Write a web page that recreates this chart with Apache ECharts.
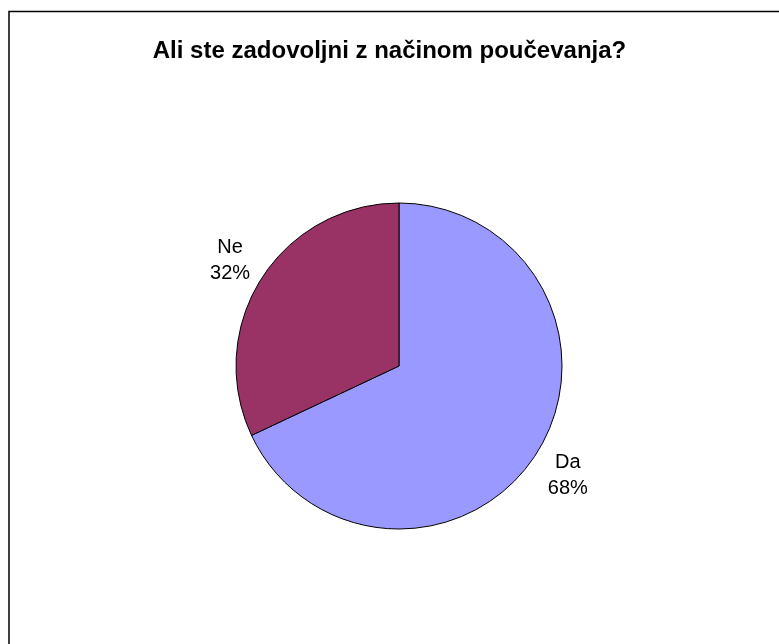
<!DOCTYPE html>
<html>
<head>
<meta charset="utf-8">
<script src="https://cdn.jsdelivr.net/npm/echarts@6/dist/echarts.min.js"></script>
<style>html,body{margin:0;padding:0;background:#fff}#c{width:779px;height:644px}</style>
</head>
<body>
<div id="c"></div>
<script>
var titleText = 'Ali ste zadovoljni z načinom poučevanja?';
var categories = ['Da', 'Ne'];
var values = [68, 32];
var colors = ['#9999FF', '#993366'];

var pieData = categories.map(function (c, i) {
  return { name: c, value: values[i], itemStyle: { color: colors[i] } };
});
var labelData = categories.map(function (c, i) {
  return { name: c, value: values[i] };
});

var chart = echarts.init(document.getElementById('c'), null, { renderer: 'canvas' });
chart.setOption({
  animation: false,
  backgroundColor: '#fff',
  title: {
    text: titleText,
    left: 'center',
    top: 34,
    textStyle: { fontFamily: 'Liberation Sans, Arial, sans-serif', fontWeight: 'bold', fontSize: 24, color: '#000' }
  },
  graphic: [{
    type: 'rect',
    shape: { x: 9, y: 11.5, width: 820, height: 700 },
    style: { fill: 'none', stroke: '#000', lineWidth: 1.5 },
    silent: true
  }],
  series: [{
    type: 'pie',
    center: [399, 366],
    radius: [0, 163],
    startAngle: 90,
    clockwise: true,
    data: pieData,
    label: { show: false },
    labelLine: { show: false },
    itemStyle: { borderColor: '#000', borderWidth: 1 },
    emphasis: { disabled: true },
    silent: true
  }, {
    type: 'pie',
    center: [399, 368],
    radius: [0, 394],
    startAngle: 90,
    clockwise: true,
    data: labelData,
    itemStyle: { color: 'rgba(0,0,0,0)', borderWidth: 0 },
    label: {
      show: true,
      position: 'inside',
      formatter: function (p) { return p.name + '\n' + p.percent.toFixed(0) + '%'; },
      color: '#000',
      fontFamily: 'Liberation Sans, Arial, sans-serif',
      fontSize: 20,
      lineHeight: 26,
      align: 'center'
    },
    labelLine: { show: false },
    emphasis: { disabled: true },
    silent: true,
    z: 1
  }]
});
</script>
</body>
</html>
